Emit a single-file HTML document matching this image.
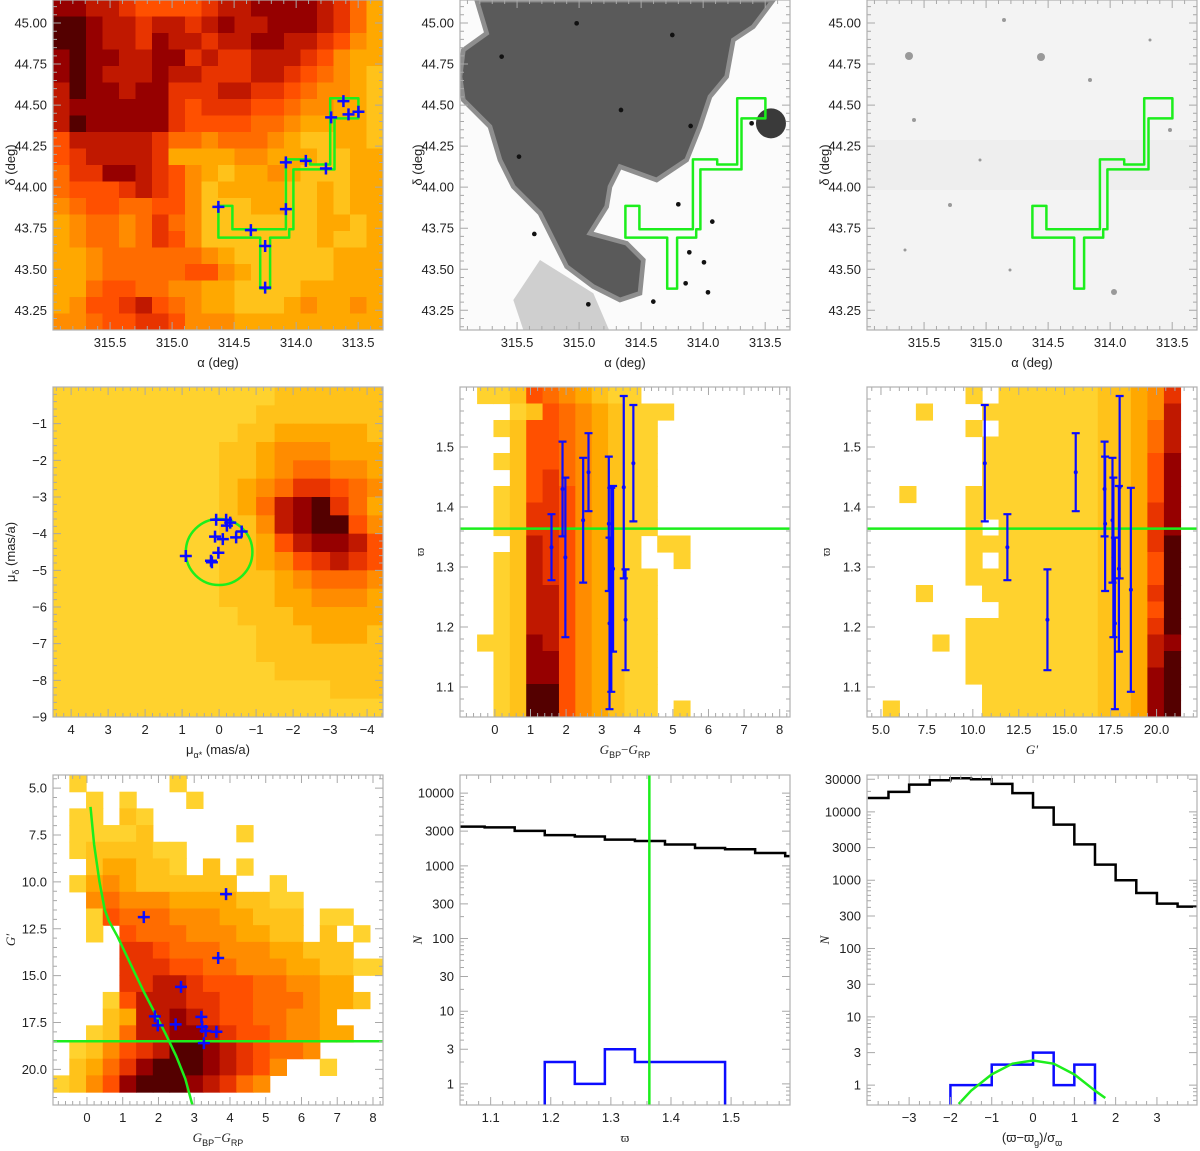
<!DOCTYPE html>
<html><head><meta charset="utf-8"><title>Cluster diagnostics</title>
<style>
html,body{margin:0;padding:0;background:#fff;}
svg{display:block;font-family:"Liberation Sans",sans-serif;}
.tl{font-size:13px;fill:#222;}
.at{font-size:13px;fill:#222;}
</style></head>
<body>
<svg id="fig" width="1200" height="1151" viewBox="0 0 1200 1151" xmlns="http://www.w3.org/2000/svg">
<defs>
<clipPath id="c11"><rect x="53" y="0" width="330" height="330"/></clipPath>
<clipPath id="c12"><rect x="460" y="0" width="330" height="330"/></clipPath>
<clipPath id="c13"><rect x="867" y="0" width="330" height="330"/></clipPath>
<clipPath id="c21"><rect x="53" y="387" width="330" height="330"/></clipPath>
<clipPath id="c22"><rect x="460" y="387" width="330" height="330"/></clipPath>
<clipPath id="c23"><rect x="867" y="387" width="330" height="330"/></clipPath>
<clipPath id="c31"><rect x="53" y="775" width="330" height="330"/></clipPath>
<clipPath id="c32"><rect x="460" y="775" width="330" height="330"/></clipPath>
<clipPath id="c33"><rect x="867" y="775" width="330" height="330"/></clipPath>
</defs>
<text class="at" x="218" y="367" text-anchor="middle">α (deg)</text>
<text class="at" transform="translate(15,165) rotate(-90)" text-anchor="middle">δ (deg)</text>
<text class="at" x="625" y="367" text-anchor="middle">α (deg)</text>
<text class="at" transform="translate(422,165) rotate(-90)" text-anchor="middle">δ (deg)</text>
<text class="at" x="1032" y="367" text-anchor="middle">α (deg)</text>
<text class="at" transform="translate(829,165) rotate(-90)" text-anchor="middle">δ (deg)</text>

<text class="at" x="218" y="754" text-anchor="middle">μ<tspan font-size="9" dy="4">α*</tspan><tspan dy="-4"> (mas/a)</tspan></text>
<text class="at" transform="translate(15,552) rotate(-90)" text-anchor="middle">μ<tspan font-size="9" dy="4">δ</tspan><tspan dy="-4"> (mas/a)</tspan></text>
<text class="at" x="625" y="754" text-anchor="middle" font-family="Liberation Serif" font-style="italic" font-size="15">G<tspan font-size="9" dy="4" font-style="normal" font-family="Liberation Sans">BP</tspan><tspan dy="-4" font-style="normal">−</tspan>G<tspan font-size="9" dy="4" font-style="normal" font-family="Liberation Sans">RP</tspan></text>
<text class="at" transform="translate(424,552) rotate(-90)" text-anchor="middle" font-family="Liberation Serif" font-size="15">ϖ</text>
<text class="at" x="1032" y="754" text-anchor="middle" font-family="Liberation Serif" font-style="italic" font-size="15">G'</text>
<text class="at" transform="translate(830,552) rotate(-90)" text-anchor="middle" font-family="Liberation Serif" font-size="15">ϖ</text>

<text class="at" x="218" y="1142" text-anchor="middle" font-family="Liberation Serif" font-style="italic" font-size="15">G<tspan font-size="9" dy="4" font-style="normal" font-family="Liberation Sans">BP</tspan><tspan dy="-4" font-style="normal">−</tspan>G<tspan font-size="9" dy="4" font-style="normal" font-family="Liberation Sans">RP</tspan></text>
<text class="at" transform="translate(15,940) rotate(-90)" text-anchor="middle" font-family="Liberation Serif" font-style="italic" font-size="15">G'</text>
<text class="at" x="625" y="1142" text-anchor="middle" font-family="Liberation Serif" font-size="15">ϖ</text>
<text class="at" transform="translate(422,940) rotate(-90)" text-anchor="middle" font-family="Liberation Serif" font-style="italic" font-size="14">N</text>
<text class="at" x="1032" y="1142" text-anchor="middle">(ϖ−ϖ<tspan font-size="9" dy="4">g</tspan><tspan dy="-4">)/σ</tspan><tspan font-size="9" dy="4">ϖ</tspan></text>
<text class="at" transform="translate(829,940) rotate(-90)" text-anchor="middle" font-family="Liberation Serif" font-style="italic" font-size="14">N</text>
</svg>
<script>
// ---------- data ----------
const skyHeat=["88776555567788887642","99877677678778887642","99877687767788776532","89887788676677765322","89877787766677654321","79887886667766543321","78888886566655433221","79888886555544322221","57777764434443211221","56777762222332221122","46688765321223211122","45556765312222112122","34554455311122112122","23443464311111112212","23443465311111112112","22344444432111111222","22344444553211111222","22455443322111122222","23556754322111232232","33455665333222222222"];
const regionAlpha=[314.627,314.514,314.514,314.083,314.083,313.887,313.887,313.726,313.726,313.498,313.498,313.691,313.691,314.022,314.022,314.056,314.056,314.21,314.21,314.29,314.29,314.627];
const regionDelta=[43.886,43.886,43.744,43.744,44.169,44.169,44.138,44.138,44.541,44.541,44.419,44.419,44.108,44.108,43.744,43.744,43.693,43.693,43.382,43.382,43.693,43.693];
const starAlpha=[314.627,314.365,314.25,314.25,314.083,314.083,313.922,313.76,313.718,313.619,313.578,313.498];
const starDelta=[43.880,43.738,43.642,43.388,43.866,44.151,44.160,44.114,44.425,44.524,44.443,44.459];
const pmHeat=["000000000000111111","000000000001111111","000000000011222221","000000000112333222","000000000112344332","000000000123466543","000000000124789642","000000000113789953","000000000112578875","000000000112356765","000000000111234443","000000000111223332","000000000011122222","000000000001112221","000000000001111111","000000000000111111","000000000000000111","000000000000000000"];
const pmRA=[0.90,0.08,0.11,-0.10,0.02,0.22,0.195,-0.19,-0.30,-0.21,-0.46,-0.61];
const pmDec=[-4.61,-3.62,-4.08,-4.15,-4.52,-4.74,-4.78,-3.62,-3.70,-3.78,-4.10,-3.94];
const plxColHeat=["0015432100...","..0154321000.",".0155432100...","..155432100...",".0155432100..","..156432100..",".0156532100..",".0166532100..",".0166532100..","..17653210.00",".017653210..0",".0176532100..",".0177532100..",".0177532100..",".0177532100..","00187532100..",".0188532100..",".0188532100..",".0199532100..",".0199532100.0"];
const plxGHeat=["......0.00000011236","...0...000000011237","......0.00000011247",".......000000011247",".......000000011258",".......000000011258","..0...0000000011258","......0000000011268","......0.00000011268","......0000000011269","......0.00000011259","......0000000011259","...0...000000011269","........00000011259","......0000000011269","....0.0000000011278","......0000000011279","......0000000011289",".......000000011289",".0.....000000011289"];
const memColor=[1.59,1.90,1.98,2.48,2.63,3.20,3.22,3.27,3.32,3.62,3.67,3.89];
const memG=[11.88,17.17,17.65,17.6,15.6,17.2,17.73,18.6,17.95,17.99,14.06,10.65];
const memPlx=[1.333,1.43,1.316,1.378,1.458,1.372,1.206,1.262,1.297,1.433,1.212,1.473];
const memPlxErr=[0.055,0.079,0.133,0.104,0.065,0.112,0.143,0.17,0.138,0.152,0.084,0.097];
const clusterPlx=1.364;
const cmdHeat=[".0.....0............","..0.0...0...........",".00.10..............",".00001.....0........",".0111100............","..122110.1.0........",".0232111111..0......","..3433322221100.....","..0544433322111.00..","..0.54443332211.1.0.","....66544433322111..","....6665544333221100","....66776555443322..","...0577766554443221.","...12778765544332...","..0147788765543322..",".013567998765443....",".1246899987653..0...","0135899987643......."];
const isoColor=[0.1,0.2,0.35,0.5,0.62,0.85,1.0,1.3,1.6,1.9,2.2,2.5,2.75,2.95];
const isoG=[6.0,8.0,10.0,11.5,12.1,12.9,13.5,14.7,15.9,17.0,18.1,19.3,20.5,21.9];
const magLimit=18.5;
const plxHistAll=[3470,3380,3030,2650,2530,2300,2200,1970,1760,1690,1500,1360];
const plxHistAllStart=1.04, plxHistBin=0.05;
const plxHistMem=[2,1,3,2,2,2];
const plxHistMemStart=1.19;
const zHistAll=[16000,19600,25100,29100,31100,30100,25700,18800,11600,6500,3350,1690,1000,650,455,410];
const zHistAllStart=-4, zHistBin=0.5;
const zHistMem=[1,1,2,2,3,1,2];
const zHistMemStart=-2;
const gaussX=[-1.8,-1.5,-1,-0.5,0,0.5,1,1.5,1.75];
const gaussY=[0.53,0.83,1.44,2.06,2.3,2.06,1.44,0.83,0.65];

// ---------- helpers ----------
const NS='http://www.w3.org/2000/svg';
const svg=document.getElementById('fig');
function el(tag,attrs,parent){const e=document.createElementNS(NS,tag);for(const k in attrs)e.setAttribute(k,attrs[k]);(parent||svg).appendChild(e);return e;}
const CMAP=['#ffd22e','#ffc21a','#ffa800','#ff8c00','#ff6c00','#ff5000','#e83400','#c01800','#960000','#540000'];
const BLUE='#0c0cff', GREEN='#1cee1c';
function lin(d0,d1,r0,r1){return v=>r0+(v-d0)/(d1-d0)*(r1-r0);}
function lg(d0,d1,r0,r1){return v=>r0+(Math.log10(Math.max(v,1e-9))-d0)/(d1-d0)*(r1-r0);}
function panel(X0,Y0,xs,ys,clip){return {X0,Y0,clip,x:xs,y:ys};}
const W=330;
const p11=panel(53,0,lin(315.96,313.30,53,383),lin(45.14,43.13,0,330),'c11');
const p12=panel(460,0,lin(315.96,313.30,460,790),lin(45.14,43.13,0,330),'c12');
const p13=panel(867,0,lin(315.96,313.30,867,1197),lin(45.14,43.13,0,330),'c13');
const p21=panel(53,387,lin(4.49,-4.43,53,383),lin(0,-9,387,717),'c21');
const p22=panel(460,387,lin(-0.98,8.29,460,790),lin(1.6,1.05,387,717),'c22');
const p23=panel(867,387,lin(4.24,22.2,867,1197),lin(1.6,1.05,387,717),'c23');
const p31=panel(53,775,lin(-0.95,8.28,53,383),lin(4.3,21.9,775,1105),'c31');
const p32=panel(460,775,lin(1.049,1.598,460,790),lg(4.25,-0.29,775,1105),'c32');
const p33=panel(867,775,lin(-4.02,3.97,867,1197),lg(4.54,-0.29,775,1105),'c33');

function group(p,name){const g=el('g',{'clip-path':'url(#'+p.clip+')'});


return g;}
function heat(p,rows,xs,xw,ys,yw,name){
  const g=group(p,name);
  rows.forEach((row,r)=>{for(let c=0;c<row.length;c++){const ch=row[c];if(ch<'0'||ch>'9')continue;
    const a=p.x(xs+c*xw),b=p.x(xs+(c+1)*xw),u=p.y(ys+r*yw),v=p.y(ys+(r+1)*yw);
    const e=el('rect',{x:Math.min(a,b),y:Math.min(u,v),width:Math.abs(b-a)+0.6,height:Math.abs(v-u)+0.6,fill:CMAP[+ch]},g);
    
    
  }});
  return g;
}
function cross(p,g,xv,yv,s){const X=p.x(xv),Y=p.y(yv);
  const e=el('path',{d:`M${X-s},${Y}H${X+s}M${X},${Y-s}V${Y+s}`,stroke:BLUE,'stroke-width':2.5,fill:'none'},g);
  
  
}
function axes(p,name,xmaj,xlab,xmin,ymaj,ylab,ymin){
  const g=el('g',{});
  
  
  const X0=p.X0,Y0=p.Y0,X1=X0+W,Y1=Y0+W;
  let d='';
  const tx=(v,L)=>{const X=p.x(v);if(X<X0-0.5||X>X1+0.5)return;d+=`M${X},${Y1}V${Y1-L}M${X},${Y0}V${Y0+L}`;};
  const ty=(v,L)=>{const Y=p.y(v);if(Y<Y0-0.5||Y>Y1+0.5)return;d+=`M${X0},${Y}H${X0+L}M${X1},${Y}H${X1-L}`;};
  xmin.forEach(v=>tx(v,4));xmaj.forEach(v=>tx(v,8));ymin.forEach(v=>ty(v,4));ymaj.forEach(v=>ty(v,8));
  el('path',{d,stroke:'#a8a8a8','stroke-width':1,fill:'none'},g);
  el('rect',{x:X0,y:Y0,width:W,height:W,fill:'none',stroke:'#b0b0b0','stroke-width':1.2},g);
  xmaj.forEach((v,i)=>{const t=el('text',{x:p.x(v),y:Y1+17,'text-anchor':'middle',class:'tl'},g);t.textContent=xlab[i];
    
    });
  ymaj.forEach((v,i)=>{const t=el('text',{x:X0-6,y:p.y(v)+4.5,'text-anchor':'end',class:'tl'},g);t.textContent=ylab[i];
    
    });
}
function range(a,b,s){const r=[];for(let v=a;v<=b+1e-9;v+=s)r.push(+v.toFixed(4));return r;}
function logMinor(lo,hi){const r=[];for(let k=lo;k<=hi;k++)for(let m=2;m<=9;m++)r.push(m*Math.pow(10,k));return r;}
function poly(p,g,xs,ys,color,w,name,closed){
  let d=xs.map((v,i)=>(i?'L':'M')+p.x(v).toFixed(1)+','+p.y(ys[i]).toFixed(1)).join('')+(closed?'Z':'');
  const e=el('path',{d,stroke:color,'stroke-width':w,fill:'none','stroke-linejoin':'round'},g);
  
  
}
function stepHist(p,g,vals,start,bin,color,name,toBottom){
  const bottom=p.Y0+W+5;
  let d=toBottom?`M${p.x(start)},${bottom}V${p.y(vals[0])}`:`M${p.x(start)},${p.y(vals[0])}`;
  vals.forEach((v,i)=>{d+=`H${p.x(start+(i+1)*bin)}`;if(i<vals.length-1)d+=`V${p.y(vals[i+1])}`;});
  if(toBottom)d+=`V${bottom}`;
  const e=el('path',{d,stroke:color,'stroke-width':2.5,fill:'none'},g);
  
  
}

// ---------- row 1 ----------
heat(p11,skyHeat,315.96,-0.133,45.14,-0.1005,'sky-density-heatmap');
{const g=group(p11,'sky-overlay');poly(p11,g,regionAlpha,regionDelta,GREEN,2.5,'cluster-region-outline',true);
 starAlpha.forEach((a,i)=>cross(p11,g,a,starDelta[i],6));}

{const g=group(p12,'extinction-image');
 el('rect',{x:460,y:0,width:330,height:330,fill:'#fbfbfb'},g);
 const b=el('g',{transform:'translate(440 0) scale(0.3333)'},g);
 const blob='M110,0L1000,0L940,80L880,120L860,230L810,290L780,380L740,480L650,540L540,500L510,560L500,620L450,700L560,730L610,780L600,880L540,900L460,860L380,800L340,720L300,640L220,560L180,480L150,380L70,300L60,230L70,150L140,100Z';
 el('path',{d:'M300,780L460,880L520,1020L260,1020L220,900Z',fill:'#cfcfcf'},b);
 const e1=el('path',{d:blob,fill:'#5a5a5a',stroke:'#8e8e8e','stroke-width':14},b);
 
 el('circle',{cx:993,cy:370,r:45,fill:'#3a3a3a'},b);
 [[410,70],[697,105],[185,170],[543,330],[752,378],[237,470],[283,702],[737,850],[445,913],[715,613],[817,665],[748,757],[792,787],[804,877],[640,905],[935,370]].forEach(s=>el('circle',{cx:s[0],cy:s[1],r:7,fill:'#111'},b));
 poly(p12,g,regionAlpha,regionDelta,GREEN,2.5,'cluster-region-outline',true);}

{const g=group(p13,'optical-image');
 el('rect',{x:867,y:0,width:330,height:330,fill:'#f3f3f3'},g);
 el('rect',{x:867,y:140,width:330,height:50,fill:'#eeeeee'},g);
 [[909,56,4],[1041,57,4],[914,120,2],[1004,20,2],[1114,292,3],[1170,130,2],[950,205,2],[1090,80,2],[905,250,1.5],[1010,270,1.5],[1150,40,1.5],[980,160,1.5]].forEach(s=>el('circle',{cx:s[0],cy:s[1],r:s[2],fill:'#999'},g));
 poly(p13,g,regionAlpha,regionDelta,GREEN,2.5,'cluster-region-outline',true);}

const skyX=[315.5,315,314.5,314,313.5], skyXL=['315.5','315.0','314.5','314.0','313.5'];
const skyY=[43.25,43.5,43.75,44,44.25,44.5,44.75,45], skyYL=['43.25','43.50','43.75','44.00','44.25','44.50','44.75','45.00'];
[p11,p12,p13].forEach((p,i)=>axes(p,'axes-p1'+(i+1),skyX,skyXL,range(313.3,315.9,0.1),skyY,skyYL,range(43.15,45.1,0.05)));

// ---------- row 2 ----------
heat(p21,pmHeat,4.5,-0.5,0,-0.5,'proper-motion-heatmap');
{const g=group(p21,'pm-overlay');
 const c=el('ellipse',{cx:p21.x(0),cy:p21.y(-4.5),rx:Math.abs(p21.x(0.9)-p21.x(0)),ry:Math.abs(p21.y(-3.6)-p21.y(-4.5)),fill:'none',stroke:GREEN,'stroke-width':2.5},g);
 
 
 pmRA.forEach((a,i)=>cross(p21,g,a,pmDec[i],6));}
axes(p21,'axes-p21',[4,3,2,1,0,-1,-2,-3,-4],['4','3','2','1','0','−1','−2','−3','−4'],range(-4.4,4.4,0.2),[-1,-2,-3,-4,-5,-6,-7,-8,-9],['−1','−2','−3','−4','−5','−6','−7','−8','−9'],range(-9,0,0.2));

function errbars(p,g,xs){
  xs.forEach((xv,i)=>{const X=p.x(xv),Yc=p.y(memPlx[i]),Yt=p.y(memPlx[i]+memPlxErr[i]),Yb=p.y(memPlx[i]-memPlxErr[i]);
    const e=el('path',{d:`M${X},${Yt}V${Yb}M${X-4},${Yt}H${X+4}M${X-4},${Yb}H${X+4}`,stroke:BLUE,'stroke-width':2.2,fill:'none'},g);
    
    
    const d=el('circle',{cx:X,cy:Yc,r:2,fill:BLUE},g);
    
    });
}
heat(p22,plxColHeat,-0.5,0.46,1.6,-0.0275,'parallax-color-heatmap');
{const g=group(p22,'plx-color-overlay');
 poly(p22,g,[-2,10],[clusterPlx,clusterPlx],GREEN,2.5,'cluster-parallax-line',false);
 errbars(p22,g,memColor);}
const plxY=[1.1,1.2,1.3,1.4,1.5], plxYL=['1.1','1.2','1.3','1.4','1.5'];
axes(p22,'axes-p22',range(0,8,1),['0','1','2','3','4','5','6','7','8'],range(-0.8,8.2,0.2),plxY,plxYL,range(1.06,1.6,0.02));

heat(p23,plxGHeat,4.2,0.9,1.6,-0.0275,'parallax-mag-heatmap');
{const g=group(p23,'plx-mag-overlay');
 poly(p23,g,[0,30],[clusterPlx,clusterPlx],GREEN,2.5,'cluster-parallax-line',false);
 errbars(p23,g,memG);}
axes(p23,'axes-p23',[5,7.5,10,12.5,15,17.5,20],['5.0','7.5','10.0','12.5','15.0','17.5','20.0'],range(4.5,22,0.5),plxY,plxYL,range(1.06,1.6,0.02));

// ---------- row 3 ----------
heat(p31,cmdHeat,-0.96,0.467,4.3,0.89,'cmd-heatmap');
{const g=group(p31,'cmd-overlay');
 poly(p31,g,isoColor,isoG,GREEN,2.5,'isochrone',false);
 poly(p31,g,[-2,10],[magLimit,magLimit],GREEN,2.5,'magnitude-limit-line',false);
 memColor.forEach((c,i)=>cross(p31,g,c,memG[i],6));}
axes(p31,'axes-p31',range(0,8,1),['0','1','2','3','4','5','6','7','8'],range(-0.8,8.2,0.2),[5,7.5,10,12.5,15,17.5,20],['5.0','7.5','10.0','12.5','15.0','17.5','20.0'],range(4.5,21.5,0.5));

const logT=[1,3,10,30,100,300,1000,3000,10000], logTL=['1','3','10','30','100','300','1000','3000','10000'];
{const g=group(p32,'parallax-hist');
 stepHist(p32,g,plxHistAll,plxHistAllStart,plxHistBin,'#000','all-stars-histogram',false);
 stepHist(p32,g,plxHistMem,plxHistMemStart,plxHistBin,BLUE,'members-histogram',true);
 const e=el('line',{x1:p32.x(clusterPlx),x2:p32.x(clusterPlx),y1:770,y2:1110,stroke:GREEN,'stroke-width':2.5},g);
 
 }
axes(p32,'axes-p32',[1.1,1.2,1.3,1.4,1.5],['1.1','1.2','1.3','1.4','1.5'],range(1.06,1.58,0.02),logT,logTL,logMinor(-1,4));

{const g=group(p33,'normalized-hist');
 stepHist(p33,g,zHistAll,zHistAllStart,zHistBin,'#000','all-stars-histogram',false);
 stepHist(p33,g,zHistMem,zHistMemStart,zHistBin,BLUE,'members-histogram',true);
 poly(p33,g,gaussX,gaussY,GREEN,2.5,'gaussian-model',false);}
axes(p33,'axes-p33',[-3,-2,-1,0,1,2,3],['−3','−2','−1','0','1','2','3'],range(-3.75,3.75,0.25),[1,3,10,30,100,300,1000,3000,10000,30000],['1','3','10','30','100','300','1000','3000','10000','30000'],logMinor(-1,4));
</script>
</body></html>
